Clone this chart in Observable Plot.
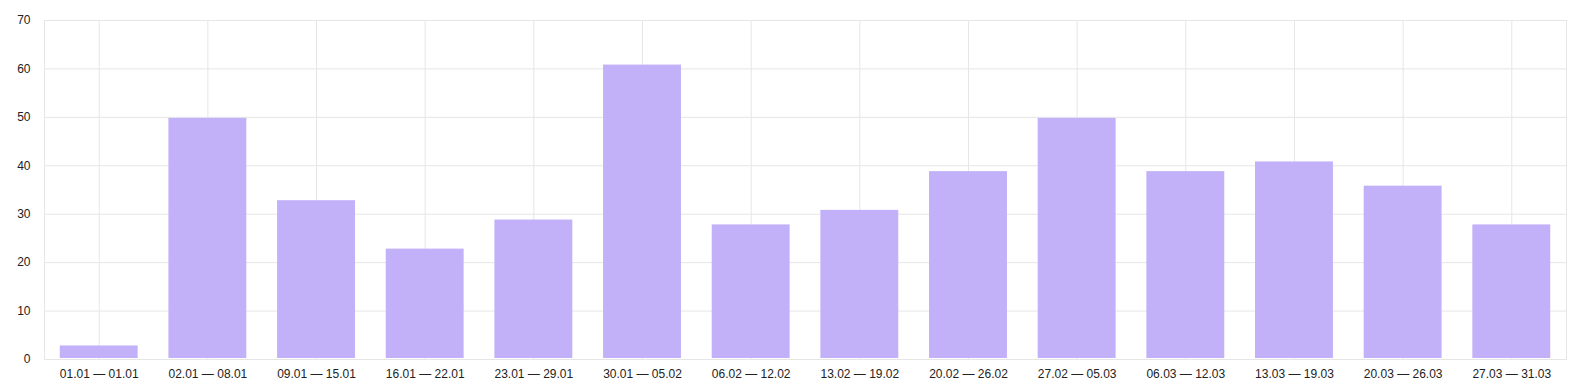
<!DOCTYPE html>
<html>
<head>
<meta charset="utf-8">
<script src="https://cdn.jsdelivr.net/npm/d3@7"></script>
<script src="https://cdn.jsdelivr.net/npm/@observablehq/plot@0.6"></script>
<style>
  html, body { margin: 0; padding: 0; background: #fff; }
  #chart { width: 1579px; height: 387px; }
</style>
</head>
<body>
<div id="chart"></div>
<script>
const weeks = ["01.01 — 01.01", "02.01 — 08.01", "09.01 — 15.01", "16.01 — 22.01", "23.01 — 29.01", "30.01 — 05.02", "06.02 — 12.02", "13.02 — 19.02", "20.02 — 26.02", "27.02 — 05.03", "06.03 — 12.03", "13.03 — 19.03", "20.03 — 26.03", "27.03 — 31.03"];
const counts = [3, 50, 33, 23, 29, 61, 28, 31, 39, 50, 39, 41, 36, 28];
const yTicks = [0, 10, 20, 30, 40, 50, 60, 70];

const data = weeks.map((w, i) => ({week: w, count: counts[i]}));

const chart = Plot.plot({
  width: 1579,
  height: 387,
  marginTop: 20,
  marginBottom: 28,
  marginLeft: 44,
  marginRight: 13,
  style: {fontFamily: "'Liberation Sans', Arial, sans-serif", fontSize: "12px", color: "#222", background: "#fff"},
  x: {domain: weeks, paddingInner: 0.283, paddingOuter: 0.145, round: false, label: null, tickSize: 0, tickPadding: 10},
  y: {domain: [0, 70], ticks: yTicks, label: null, tickSize: 0, tickPadding: 14},
  marks: [
    Plot.ruleY(yTicks, {stroke: "#e6e6e6", strokeOpacity: 1}),
    Plot.ruleX(weeks, {x: d => d, stroke: "#e6e6e6", strokeOpacity: 1}),
    Plot.frame({stroke: "#e6e6e6", strokeOpacity: 1}),
    Plot.barY(data, {x: "week", y: "count", fill: "#c2b1f8", insetTop: 1, insetBottom: 1})
  ]
});
document.getElementById("chart").appendChild(chart);
</script>
</body>
</html>
